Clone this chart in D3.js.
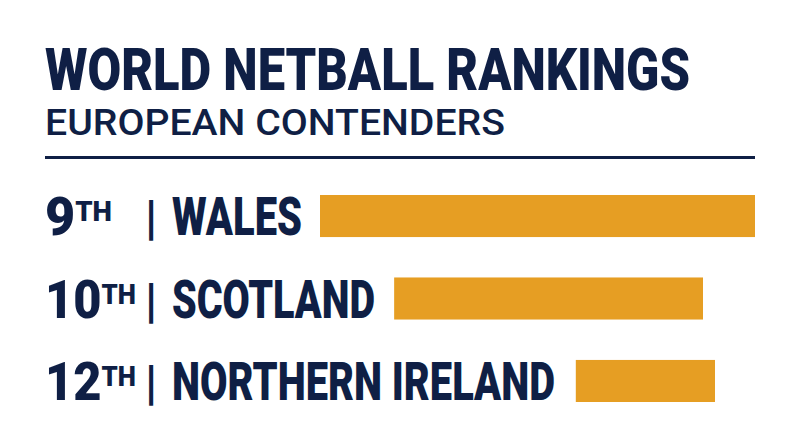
<!DOCTYPE html>
<html><head><meta charset="utf-8">
<script src="https://cdn.jsdelivr.net/npm/d3@7"></script>
<style>body{margin:0;background:#fff}</style></head>
<body><svg id="c" width="800" height="447"></svg>
<script>
const ranks = ["9", "10", "12"];
const names = ["WALES", "SCOTLAND", "NORTHERN IRELAND"];
const values = [100, 71, 32];
const nameWidths = [130, 203, 383]; // text lengths to match the condensed lettering
const rankWidths = [67, 91, 91];

const navy = "#0f1f45";
const gold = "#e69e23";
const font = "Roboto, 'Liberation Sans', sans-serif";

var svg = d3.select("#c");

svg.append("text").text("WORLD NETBALL RANKINGS")
  .attr("x", 45).attr("y", 90).attr("font-family", font).attr("font-weight", 900)
  .attr("font-size", 60).attr("fill", navy)
  .attr("textLength", 645).attr("lengthAdjust", "spacingAndGlyphs");
svg.append("text").text("EUROPEAN CONTENDERS")
  .attr("x", 45).attr("y", 135).attr("font-family", font).attr("font-weight", 500)
  .attr("font-size", 37).attr("fill", navy)
  .attr("textLength", 460).attr("lengthAdjust", "spacingAndGlyphs");
svg.append("rect").attr("x", 45).attr("y", 156).attr("width", 710).attr("height", 3).attr("fill", navy);

var y = d3.scaleBand().domain(names).range([195, 402]).paddingInner(0.49).paddingOuter(0);
var x = d3.scaleLinear().domain([0, 100]).range([0, 435]);
var barEnds = [755, 703, 715];

names.forEach(function (name, i) {
  var top = y(name), h = y.bandwidth(), base = top + h / 2 + 19;
  var t = svg.append("text").attr("x", 45).attr("y", base)
    .attr("font-family", font).attr("font-weight", 900).attr("font-size", 53).attr("fill", navy)
    .attr("textLength", rankWidths[i]).attr("lengthAdjust", "spacingAndGlyphs");
  t.append("tspan").text(ranks[i]);
  t.append("tspan").text("TH").attr("font-size", 28).attr("dy", -14);
  svg.append("text").text("|").attr("x", 145).attr("y", base - 1)
    .attr("font-family", font).attr("font-weight", 700).attr("font-size", 48).attr("fill", navy);
  svg.append("text").text(name).attr("x", 172).attr("y", base)
    .attr("font-family", font).attr("font-weight", 900).attr("font-size", 53).attr("fill", navy)
    .attr("textLength", nameWidths[i]).attr("lengthAdjust", "spacingAndGlyphs");
  var w = x(values[i]);
  svg.append("rect").attr("x", barEnds[i] - w).attr("y", top).attr("width", w).attr("height", h).attr("fill", gold);
});
</script></body></html>
